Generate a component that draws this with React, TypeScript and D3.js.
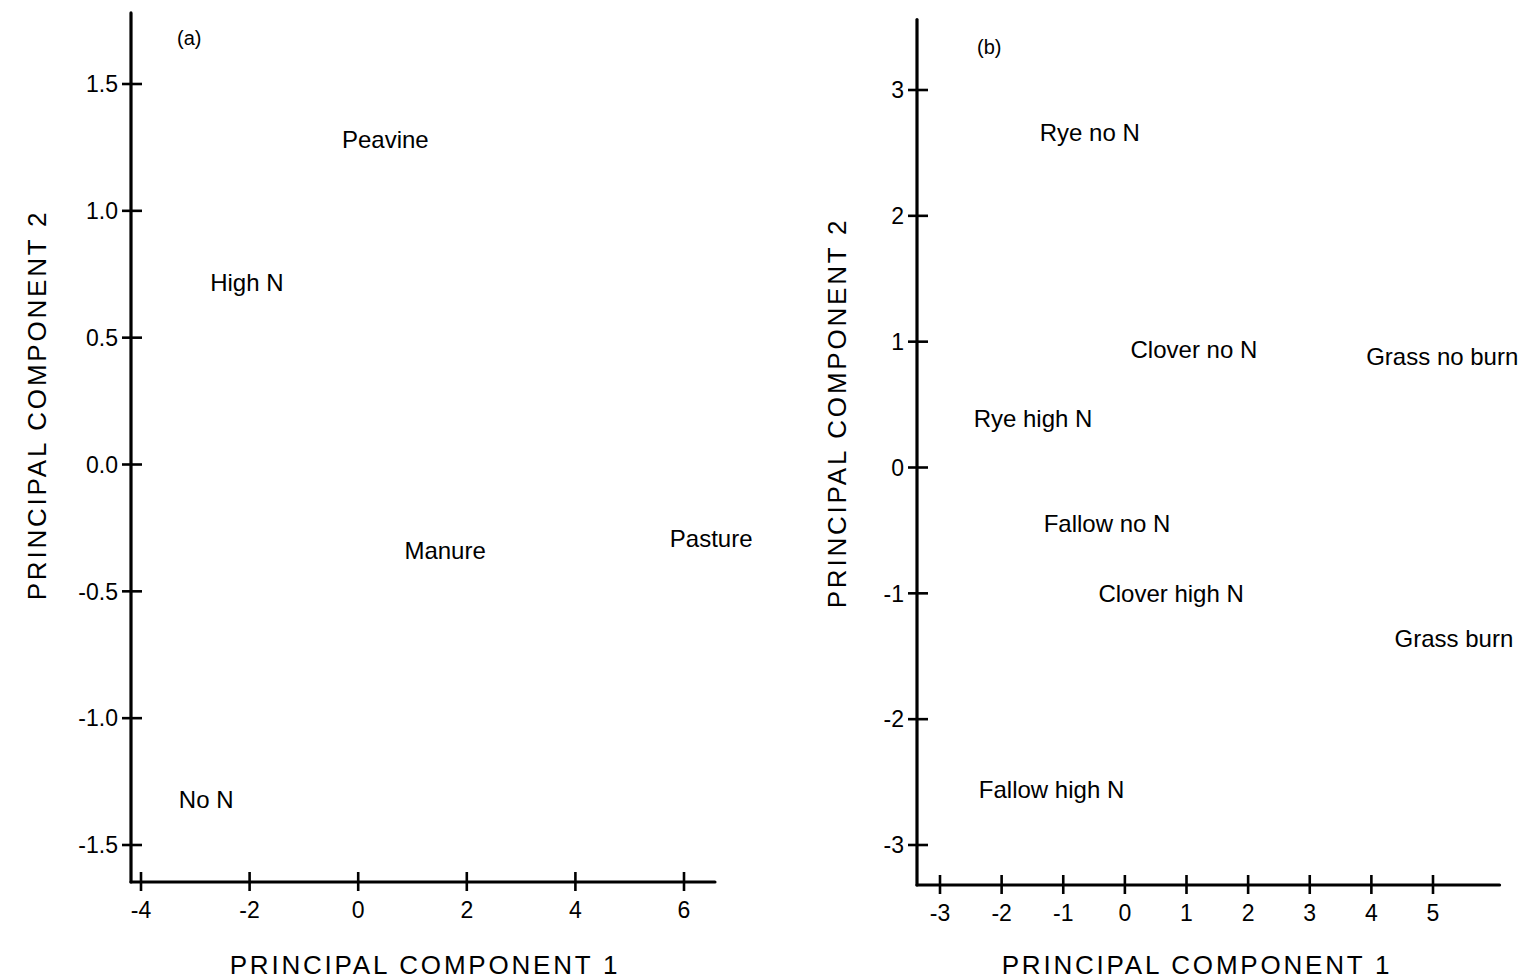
import React from "react"
import { scaleLinear, format } from "d3"

// panel (a)
const aLabels = ["Peavine", "High N", "Manure", "Pasture", "No N"]
const aPC1 = [0.5, -2.05, 1.6, 6.5, -2.8]
const aPC2 = [1.28, 0.72, -0.34, -0.29, -1.32]
const aXTicks = [-4, -2, 0, 2, 4, 6]
const aYTicks = [-1.5, -1.0, -0.5, 0.0, 0.5, 1.0, 1.5]

// panel (b)
const bLabels = [
  "Rye no N",
  "Clover no N",
  "Grass no burn",
  "Rye high N",
  "Fallow no N",
  "Clover high N",
  "Grass burn",
  "Fallow high N"
]
const bPC1 = [-0.57, 1.12, 5.15, -1.49, -0.29, 0.75, 5.34, -1.19]
const bPC2 = [2.66, 0.94, 0.88, 0.39, -0.44, -1.0, -1.36, -2.56]
const bXTicks = [-3, -2, -1, 0, 1, 2, 3, 4, 5]
const bYTicks = [-3, -2, -1, 0, 1, 2, 3]

const FONT = "'Liberation Sans', Arial, Helvetica, sans-serif"

// plain hyphen instead of the unicode minus d3 puts in
const hyphen = (s: string) => s.replace("\u2212", "-")

type PanelProps = {
  tag: string
  labels: string[]
  xs: number[]
  ys: number[]
  xTicks: number[]
  yTicks: number[]
  xDomain: [number, number]
  xRange: [number, number]
  yDomain: [number, number]
  yRange: [number, number]
  originX: number
  originY: number
  xEnd: number
  yTop: number
  yFmt: (v: number) => string
  tagPos: [number, number]
  yTitle: [number, number]
  xTitleX: number
}

function Panel(p: PanelProps) {
  const x = scaleLinear().domain(p.xDomain).range(p.xRange)
  const y = scaleLinear().domain(p.yDomain).range(p.yRange)
  const ax = p.originX
  const ay = p.originY
  return (
    <g fontFamily={FONT} fill="#000">
      {/* axes */}
      <line x1={ax} y1={y(p.yTop)} x2={ax} y2={ay} stroke="#000" strokeWidth={3.2} strokeLinecap="round" />
      <line x1={ax} y1={ay} x2={x(p.xEnd)} y2={ay} stroke="#000" strokeWidth={3.2} strokeLinecap="round" />
      {p.yTicks.map((t, i) => (
        <g key={"y" + i}>
          <line x1={ax - 9} x2={ax + 11} y1={y(t)} y2={y(t)} stroke="#000" strokeWidth={2.6} />
          <text x={ax - 13} y={y(t)} dy="0.36em" textAnchor="end" fontSize={23}>
            {p.yFmt(t)}
          </text>
        </g>
      ))}
      {p.xTicks.map((t, i) => (
        <g key={"x" + i}>
          <line x1={x(t)} x2={x(t)} y1={ay - 10} y2={ay + 9} stroke="#000" strokeWidth={2.6} />
          <text x={x(t)} y={ay + 36} textAnchor="middle" fontSize={23}>
            {t}
          </text>
        </g>
      ))}
      {/* point labels */}
      {p.labels.map((l, i) => (
        <text key={l} x={x(p.xs[i])} y={y(p.ys[i])} dy="0.36em" textAnchor="middle" fontSize={24}>
          {l}
        </text>
      ))}
      <text x={p.tagPos[0]} y={p.tagPos[1]} fontSize={20}>
        {p.tag}
      </text>
      <text x={p.xTitleX} y={974} textAnchor="middle" fontSize={26} letterSpacing={2.8}>
        PRINCIPAL COMPONENT 1
      </text>
      <text
        transform={`translate(${p.yTitle[0]},${p.yTitle[1]}) rotate(-90)`}
        textAnchor="middle"
        fontSize={26}
        letterSpacing={2.8}
      >
        PRINCIPAL COMPONENT 2
      </text>
    </g>
  )
}

export default function App() {
  const fmt1 = format(".1f")
  return (
    <svg width={1528} height={979} style={{ position: "absolute", left: 0, top: 0, background: "#fff" }}>
      <rect width={1528} height={979} fill="#fff" />
      <Panel
        tag="(a)"
        labels={aLabels}
        xs={aPC1}
        ys={aPC2}
        xTicks={aXTicks}
        yTicks={aYTicks}
        xDomain={[-4, 6]}
        xRange={[141, 684]}
        yDomain={[-1.5, 1.5]}
        yRange={[845, 84]}
        originX={131}
        originY={882}
        xEnd={6.57}
        yTop={1.78}
        yFmt={(v) => hyphen(fmt1(v))}
        tagPos={[177, 45]}
        yTitle={[46, 405]}
        xTitleX={425}
      />
      <Panel
        tag="(b)"
        labels={bLabels}
        xs={bPC1}
        ys={bPC2}
        xTicks={bXTicks}
        yTicks={bYTicks}
        xDomain={[-3, 5]}
        xRange={[940, 1433]}
        yDomain={[-3, 3]}
        yRange={[845, 90]}
        originX={917}
        originY={885}
        xEnd={6.08}
        yTop={3.56}
        yFmt={(v) => String(v)}
        tagPos={[977, 54]}
        yTitle={[846, 413]}
        xTitleX={1197}
      />
    </svg>
  )
}
